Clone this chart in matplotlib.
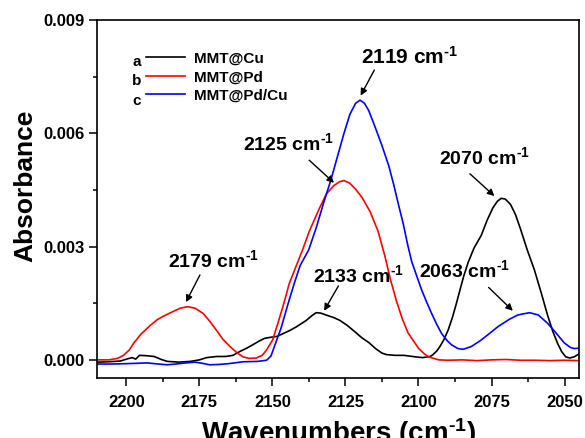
import numpy as np
import matplotlib
matplotlib.use('Agg')
import matplotlib.pyplot as plt
from matplotlib.ticker import MultipleLocator, FormatStrFormatter

plt.rcParams['font.family'] = ['Liberation Sans', 'DejaVu Sans']
plt.rcParams['font.weight'] = 'bold'
plt.rcParams['mathtext.fontset'] = 'custom'
plt.rcParams['mathtext.rm'] = 'Liberation Sans:bold'
plt.rcParams['mathtext.bf'] = 'Liberation Sans:bold'
plt.rcParams['mathtext.it'] = 'Liberation Sans:bold'
plt.rcParams['mathtext.default'] = 'bf'

# MMT@Cu (black)
cu_w = [2210, 2206, 2202, 2199.5, 2198, 2196.8, 2195.5, 2193, 2190.5, 2188, 2186, 2182, 2178, 2175,
        2172.5, 2169, 2166, 2163.5, 2161.2, 2158.8, 2156.7, 2154.5, 2152.7, 2150.5, 2148.5, 2146.5,
        2144, 2141.9, 2138.5, 2136.5, 2135, 2133.5, 2131.7, 2129, 2127, 2124.5, 2122, 2119.3, 2117,
        2114.7, 2112.5, 2111, 2108, 2105, 2101, 2098.5, 2096, 2095, 2093.7, 2092.6, 2091.2, 2089.8,
        2088.4, 2087, 2085.7, 2084.5, 2083, 2081, 2078.5, 2076.5, 2074.5, 2073, 2071.7, 2070.3,
        2068.5, 2066.8, 2065, 2062.8, 2060.3, 2058, 2055.8, 2054, 2052.4, 2051, 2049.6, 2048.2,
        2046.7, 2045]
cu_a = [-0.00006, -0.00005, -0.00003, 0.00003, 0.00006, 0.00002, 0.00012, 0.00011, 0.00009, 0.00001,
        -0.00004, -0.00006, -0.00004, 0.00000, 0.00006, 0.00009, 0.00009, 0.00012, 0.00022, 0.00031,
        0.00040, 0.00050, 0.00057, 0.00060, 0.00062, 0.00069, 0.00078, 0.00087, 0.00104, 0.00117,
        0.00125, 0.00124, 0.00119, 0.00112, 0.00105, 0.00092, 0.00076, 0.00058, 0.00046, 0.00030,
        0.00018, 0.00014, 0.00012, 0.00012, 0.00008, 0.00006, 0.00009, 0.00014, 0.00024, 0.00036,
        0.00055, 0.00080, 0.00112, 0.00150, 0.00188, 0.00222, 0.00258, 0.00296, 0.00330, 0.00370,
        0.00403, 0.00420, 0.00428, 0.00426, 0.00412, 0.00385, 0.00345, 0.00292, 0.00238, 0.00178,
        0.00118, 0.00075, 0.00044, 0.00022, 0.00008, 0.00005, 0.00008, 0.00016]

# MMT@Pd (red)
pd_w = [2210, 2206, 2203, 2201, 2199, 2197.5, 2195, 2192, 2189.5, 2187, 2184, 2181.5, 2179, 2176.5,
        2173.7, 2171.5, 2169.2, 2167, 2164.6, 2162, 2160, 2158, 2155.5, 2153.5, 2152, 2149.9, 2148,
        2146, 2144.2, 2141.8, 2139.7, 2137.4, 2134, 2131.5, 2128.9, 2127, 2125.5, 2123.5, 2121.5,
        2119.3, 2116.5, 2113.8, 2111.5, 2109.5, 2107.5, 2105.5, 2103.6, 2100, 2098, 2096.5, 2094, 2093,
        2090, 2085, 2080, 2075, 2070, 2065, 2060, 2055, 2050, 2045]
pd_a = [0.00000, 0.00000, 0.00004, 0.00012, 0.00026, 0.00044, 0.00068, 0.00090, 0.00106, 0.00117,
        0.00128, 0.00137, 0.00141, 0.00137, 0.00123, 0.00103, 0.00079, 0.00055, 0.00036, 0.00018,
        0.00008, 0.00004, 0.00005, 0.00012, 0.00026, 0.00053, 0.00100, 0.00152, 0.00203, 0.00250,
        0.00291, 0.00340, 0.00400, 0.00440, 0.00462, 0.00472, 0.00475, 0.00468, 0.00452, 0.00430,
        0.00392, 0.00340, 0.00275, 0.00210, 0.00155, 0.00108, 0.00072, 0.00031, 0.00016, 0.00008,
        0.00002, 0.00000, -0.00001, 0.00000, -0.00002, 0.00000, 0.00001, -0.00001, -0.00001,
        -0.00002, -0.00001, -0.00002]

# MMT@Pd/Cu (blue)
pdcu_w = [2210, 2205, 2200, 2196, 2193, 2189, 2186, 2183, 2179.5, 2176.5, 2174, 2171.5, 2168, 2165,
          2160, 2155, 2152, 2150.5, 2148.5, 2147, 2145.9, 2144.2, 2142.5, 2140.5, 2137.6, 2135,
          2132.5, 2130, 2127.5, 2125.5, 2123.5, 2121.5, 2120, 2118.5, 2117, 2115, 2112.6, 2110.2,
          2108.5, 2106.8, 2105.2, 2103.7, 2102.3, 2100.5, 2098.9, 2097.2, 2095.5, 2093.8, 2092.1,
          2090.3, 2088.7, 2086.5, 2084.7, 2082, 2079, 2076, 2072.8, 2069, 2066, 2062, 2059, 2055.8,
          2053, 2050.1, 2048, 2046.7, 2045]
pdcu_a = [-0.00011, -0.00011, -0.00010, -0.00009, -0.00008, -0.00011, -0.00013, -0.00011, -0.00008,
          -0.00006, -0.00009, -0.00013, -0.00012, -0.00010, -0.00005, -0.00004, -0.00001, 0.00010,
          0.00053, 0.00085, 0.00115, 0.00160, 0.00203, 0.00250, 0.00291, 0.00350, 0.00415, 0.00476,
          0.00545, 0.00600, 0.00650, 0.00680, 0.00688, 0.00680, 0.00660, 0.00620, 0.00570, 0.00515,
          0.00465, 0.00410, 0.00360, 0.00305, 0.00260, 0.00220, 0.00185, 0.00153, 0.00123, 0.00095,
          0.00070, 0.00052, 0.00040, 0.00030, 0.00028, 0.00035, 0.00050, 0.00068, 0.00088, 0.00107,
          0.00119, 0.00125, 0.00119, 0.00097, 0.00072, 0.00045, 0.00033, 0.00030, 0.00031]

labels = ['MMT@Cu', 'MMT@Pd', 'MMT@Pd/Cu']
letters = ['a', 'b', 'c']
colors = ['black', '#ff0000', '#0000ff']

# annotations: text, text centre, arrow start, arrow tip
sup = r'$^{\text{-}1}$'
ann_text = ['2179 cm' + sup, '2133 cm' + sup, '2063 cm' + sup,
            '2070 cm' + sup, '2125 cm' + sup, '2119 cm' + sup]
ann_txy = [(2170.1, 0.00264), (2120.7, 0.00225), (2084.1, 0.00238),
           (2077.3, 0.00537), (2144.6, 0.00574), (2103.1, 0.00804)]
ann_from = [(2174.8, 0.00225), (2127.4, 0.00196), (2076.0, 0.00192),
            (2082.4, 0.00493), (2137.4, 0.00529), (2115.1, 0.00768)]
ann_tip = [(2179.6, 0.00153), (2132.3, 0.00130), (2067.7, 0.00130),
           (2074.0, 0.00434), (2128.9, 0.00469), (2119.8, 0.00700)]
ann_size = [14, 14, 14, 14, 14, 15]

fig = plt.figure(figsize=(5.85, 4.38), dpi=100)
ax = fig.add_axes([0.166, 0.137, 0.824, 0.817])

lines = []
for w, a, c, lab in zip([cu_w, pd_w, pdcu_w], [cu_a, pd_a, pdcu_a], colors, labels):
    ln, = ax.plot(w, a, color=c, lw=1.2, label=lab)
    lines.append(ln)

ax.set_xlim(2210, 2045)
ax.set_ylim(-0.00048, 0.009)
ax.xaxis.set_major_locator(MultipleLocator(25))
ax.xaxis.set_minor_locator(MultipleLocator(12.5))
ax.yaxis.set_major_locator(MultipleLocator(0.003))
ax.yaxis.set_minor_locator(MultipleLocator(0.0015))
ax.yaxis.set_major_formatter(FormatStrFormatter('%.3f'))
ax.tick_params(which='both', direction='out', top=False, right=False, width=1.1)
ax.tick_params(which='major', length=6, labelsize=12)
ax.tick_params(which='minor', length=3)
ax.tick_params(axis='x', which='major', pad=6)
ax.tick_params(axis='y', which='major', pad=3)
for s in ax.spines.values():
    s.set_linewidth(1.2)

ax.set_xlabel('Wavenumbers (cm' + sup + ')', fontsize=20, fontweight='bold')
ax.set_ylabel('Absorbance', fontsize=19, fontweight='bold')
ax.xaxis.set_label_coords(0.5, -0.106)
ax.yaxis.set_label_coords(-0.123, 0.536)

leg = ax.legend(handles=lines, loc='upper left', bbox_to_anchor=(0.102, 0.912),
                frameon=False, fontsize=11, handlelength=2.55, handletextpad=0.6,
                labelspacing=0.3, borderpad=0, borderaxespad=0)
for y, l in zip([0.884, 0.829, 0.773], letters):
    ax.text(0.083, y, l, transform=ax.transAxes, fontsize=11, fontweight='bold',
            ha='center', va='center')

for t, txy, fr, tip, fs in zip(ann_text, ann_txy, ann_from, ann_tip, ann_size):
    ax.text(txy[0], txy[1], t, fontsize=fs, fontweight='bold', ha='center', va='center')
    ax.annotate('', xy=tip, xytext=fr,
                arrowprops=dict(arrowstyle='-|>', color='black', lw=1.0,
                                mutation_scale=10, shrinkA=0, shrinkB=0))

fig.savefig('out.png', dpi=100)
